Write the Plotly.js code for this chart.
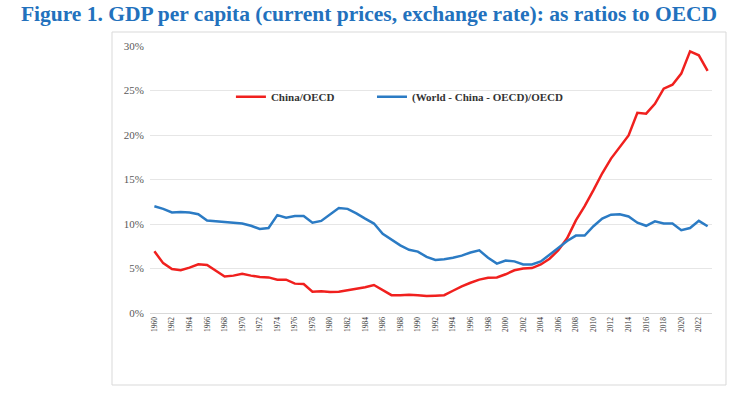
<!DOCTYPE html>
<html>
<head>
<meta charset="utf-8">
<script src="https://cdn.plot.ly/plotly-3.0.1.min.js"></script>
<style>html,body{margin:0;padding:0;background:#fff;}#chart{width:738px;height:397px;}</style>
</head>
<body>
<div id="chart"></div>
<script>
const years = [];
for (let y = 1960; y <= 2023; y++) years.push(String(y));

const chinaOECD = [
  6.93,5.6,4.95,4.8,5.1,5.47,5.4,4.7,4.1,4.2,
  4.4,4.2,4.05,4.0,3.75,3.75,3.3,3.25,2.4,2.45,
  2.35,2.4,2.55,2.75,2.9,3.15,2.55,2.0,2.0,2.05,
  2.0,1.9,1.95,2.0,2.5,3.0,3.4,3.75,3.95,4.0,
  4.35,4.8,5.0,5.05,5.45,6.1,7.05,8.4,10.4,12.0,
  13.8,15.7,17.35,18.65,19.95,22.5,22.4,23.5,25.2,25.65,
  26.9,29.4,28.95,27.2
];
const restOECD = [
  12.0,11.7,11.3,11.35,11.3,11.1,10.4,10.3,10.2,10.1,
  10.05,9.8,9.45,9.55,11.0,10.7,10.9,10.9,10.15,10.35,
  11.1,11.8,11.7,11.2,10.6,10.05,8.9,8.2,7.6,7.1,
  6.9,6.3,5.95,6.05,6.2,6.45,6.8,7.05,6.2,5.55,
  5.9,5.8,5.45,5.45,5.8,6.55,7.3,8.1,8.7,8.7,
  9.75,10.6,11.05,11.1,10.85,10.15,9.8,10.3,10.05,10.05,
  9.3,9.55,10.35,9.75
];
const tickYears = years.filter((y, i) => i % 2 === 0);
const seriesNames = ["China/OECD", "(World - China - OECD)/OECD"];
const titleText = "Figure 1. GDP per capita (current prices, exchange rate): as ratios to OECD";

const serif = "Liberation Serif, Times New Roman, serif";

const traces = [
  {x: years, y: chinaOECD, name: seriesNames[0], type: "scatter", mode: "lines",
   line: {color: "#f0201e", width: 2.5}, legend: "legend"},
  {x: years, y: restOECD, name: seriesNames[1], type: "scatter", mode: "lines",
   line: {color: "#2b7bc4", width: 2.5}, legend: "legend2"}
];

const legendBase = {orientation: "h", y: 0.81, xanchor: "left", yanchor: "middle",
  font: {family: serif, size: 11, color: "#333", weight: "bold"},
  itemwidth: 30, bgcolor: "rgba(0,0,0,0)"};

const layout = {
  width: 738, height: 397,
  paper_bgcolor: "#fff", plot_bgcolor: "#fff",
  margin: {l: 150, r: 26, t: 46, b: 84},
  title: {text: "<b>" + titleText + "</b>", font: {family: serif, size: 21.5, color: "#2271bd"},
          xref: "container", x: 0.5, xanchor: "center", yref: "container", y: 0.966, yanchor: "middle"},
  xaxis: {type: "category", range: [-0.5, 63.5], tickmode: "array", tickvals: tickYears, ticktext: tickYears,
          tickangle: -90, tickfont: {family: serif, size: 7.5, color: "#333"}, showgrid: false,
          showline: true, linecolor: "#d9d9d9", linewidth: 1, ticks: "", zeroline: false, fixedrange: true},
  yaxis: {range: [0, 30], dtick: 5, ticksuffix: "%", tickfont: {family: serif, size: 11, color: "#595959"},
          gridcolor: "#e6e6e6", gridwidth: 1, zeroline: false, showline: false, ticks: "", ticklen: 0,
          ticklabelstandoff: 5, automargin: false, fixedrange: true},
  showlegend: true,
  legend: Object.assign({}, legendBase, {x: 0.144}),
  legend2: Object.assign({}, legendBase, {x: 0.395}),
  shapes: [{type: "rect", xref: "paper", yref: "paper", x0: -0.0676, x1: 1.0249, y0: -0.2697, y1: 1.0524,
            line: {color: "#d9d9d9", width: 1}, fillcolor: "rgba(0,0,0,0)", layer: "below"}]
};

Plotly.newPlot("chart", traces, layout, {displayModeBar: false, staticPlot: true});
</script>
</body>
</html>
